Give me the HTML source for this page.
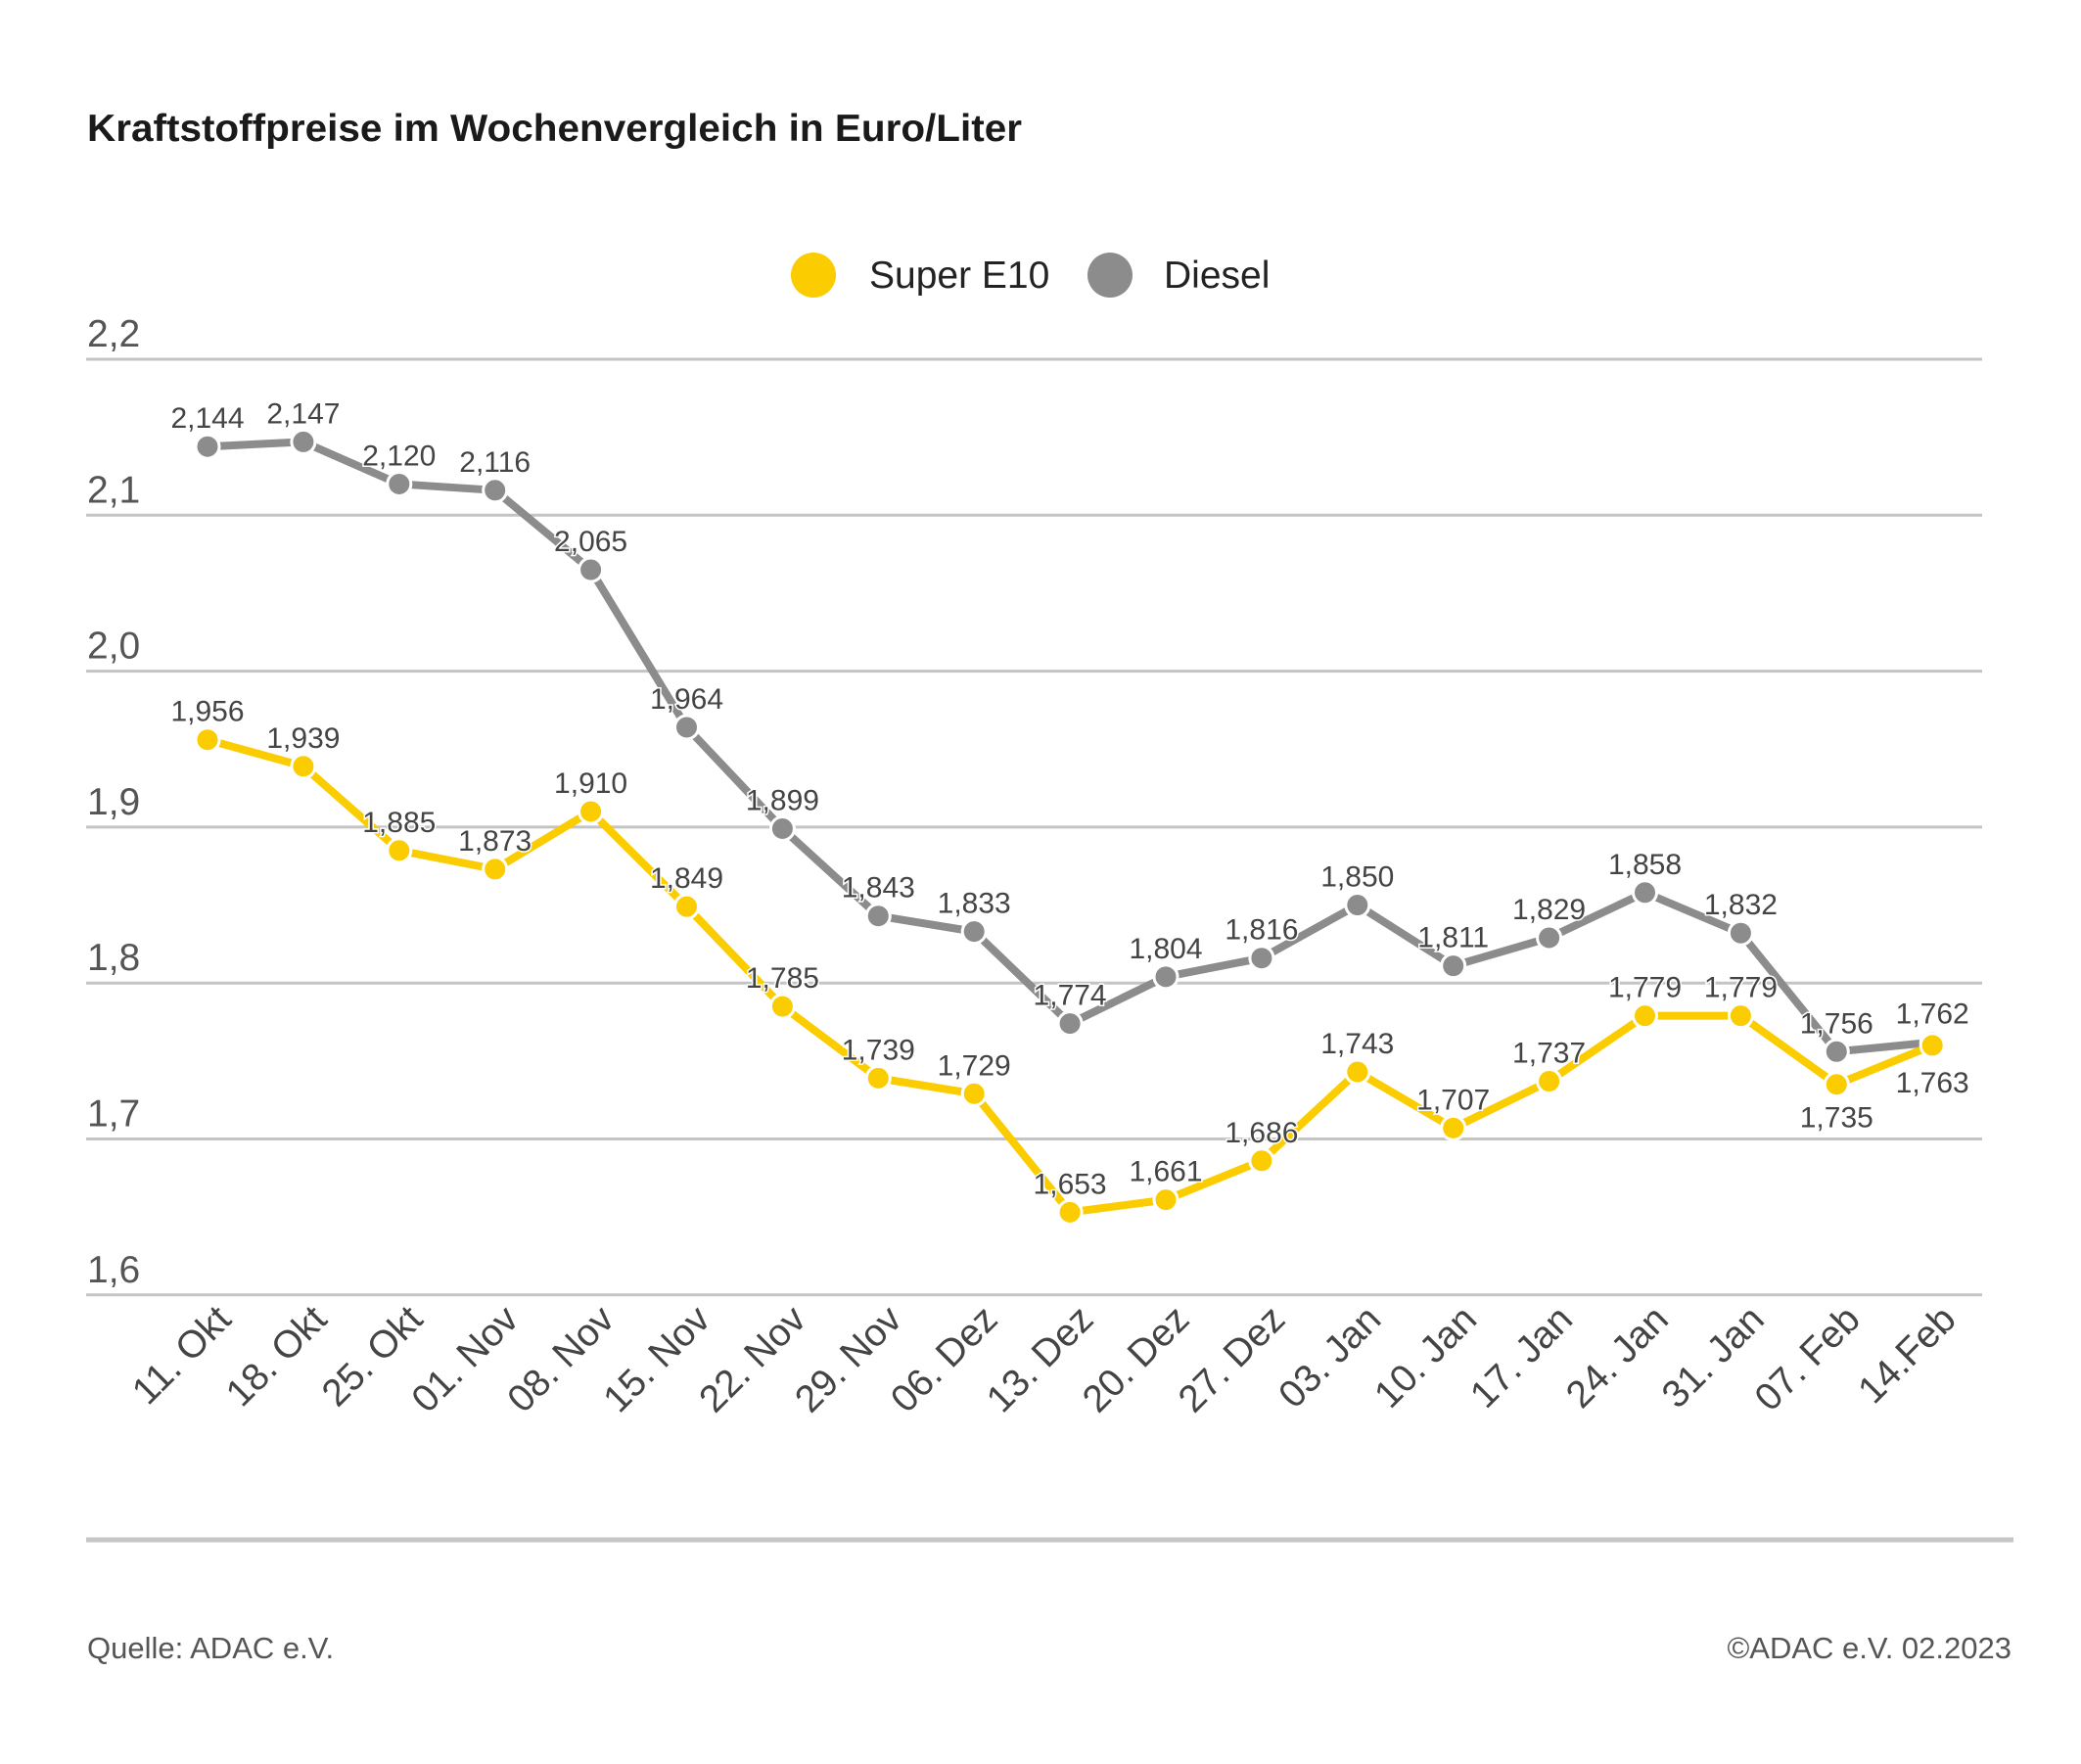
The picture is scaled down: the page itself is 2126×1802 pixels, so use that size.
<!DOCTYPE html>
<html><head><meta charset="utf-8"><style>
html,body{margin:0;padding:0;background:#fff;}
svg{display:block;font-family:"Liberation Sans",sans-serif;}
</style></head><body>
<svg id="c" width="2126" height="1802" viewBox="0 0 2126 1802" xmlns="http://www.w3.org/2000/svg">
<rect width="2126" height="1802" fill="#fff"/>
<text x="89" y="144" font-size="39" font-weight="bold" fill="#1a1a1a" textLength="955" lengthAdjust="spacingAndGlyphs">Kraftstoffpreise im Wochenvergleich in Euro/Liter</text>
<circle cx="831" cy="281" r="23" fill="#fbcc00"/>
<text x="888" y="294" font-size="39" fill="#222">Super E10</text>
<circle cx="1134" cy="281" r="23" fill="#8c8c8c"/>
<text x="1189" y="294" font-size="39" fill="#222">Diesel</text>
<g id="grid"></g>
<line x1="88" y1="1573" x2="2057" y2="1573" stroke="#c6c6c6" stroke-width="5"/>
<text x="89" y="1694" font-size="31" fill="#555">Quelle: ADAC e.V.</text>
<text x="2055" y="1694" font-size="31" fill="#555" text-anchor="end">©ADAC e.V. 02.2023</text>
</svg>
<script>
var svg=document.getElementById('c'),NS='http://www.w3.org/2000/svg';
function el(n,a,t){var e=document.createElementNS(NS,n);for(var k in a)e.setAttribute(k,a[k]);if(t)e.textContent=t;svg.appendChild(e);return e;}
function Y(v){return 367+(2.2-v)*10*159.3;}
function X(i){return 212+i*97.9;}
var ticks=['2,2','2,1','2,0','1,9','1,8','1,7','1,6'];
for(var i=0;i<7;i++){var y=367+i*159.3;el('line',{x1:88,y1:y,x2:2025,y2:y,stroke:'#c4c4c4','stroke-width':3});
el('text',{x:89,y:y-13,'font-size':39,fill:'#555'},ticks[i]);}
var d=[2.144,2.147,2.120,2.116,2.065,1.964,1.899,1.843,1.833,1.774,1.804,1.816,1.850,1.811,1.829,1.858,1.832,1.756,1.762];
var e=[1.956,1.939,1.885,1.873,1.910,1.849,1.785,1.739,1.729,1.653,1.661,1.686,1.743,1.707,1.737,1.779,1.779,1.735,1.760];
var el10=['1,956','1,939','1,885','1,873','1,910','1,849','1,785','1,739','1,729','1,653','1,661','1,686','1,743','1,707','1,737','1,779','1,779','1,735','1,763'];
var lab=['11. Okt','18. Okt','25. Okt','01. Nov','08. Nov','15. Nov','22. Nov','29. Nov','06. Dez','13. Dez','20. Dez','27. Dez','03. Jan','10. Jan','17. Jan','24. Jan','31. Jan','07. Feb','14.Feb'];
function series(v,col){var p=v.map(function(a,i){return X(i)+','+Y(a)}).join(' ');
el('polyline',{points:p,fill:'none',stroke:col,'stroke-width':8,'stroke-linejoin':'round'});
v.forEach(function(a,i){el('circle',{cx:X(i),cy:Y(a),r:12,fill:col,stroke:'#fff','stroke-width':3});});}
series(d,'#8c8c8c');series(e,'#fbcc00');
function lbl(x,y,t){el('text',{x:x,y:y,'font-size':30,fill:'#444','text-anchor':'middle',stroke:'#fff','stroke-width':3,'paint-order':'stroke'},t);}
d.forEach(function(a,i){lbl(X(i),Y(a)-19,a.toFixed(3).replace('.',','));});
e.forEach(function(a,i){var dy=-19;if(i==17)dy=44;if(i==18)dy=48;lbl(X(i),Y(a)+dy,el10[i]);});
lab.forEach(function(t,i){var x=X(i)+26,y=1350;el('text',{x:x,y:y,'font-size':39,fill:'#444','text-anchor':'end',transform:'rotate(-45 '+x+' '+y+')'},t);});
</script>
</body></html>
